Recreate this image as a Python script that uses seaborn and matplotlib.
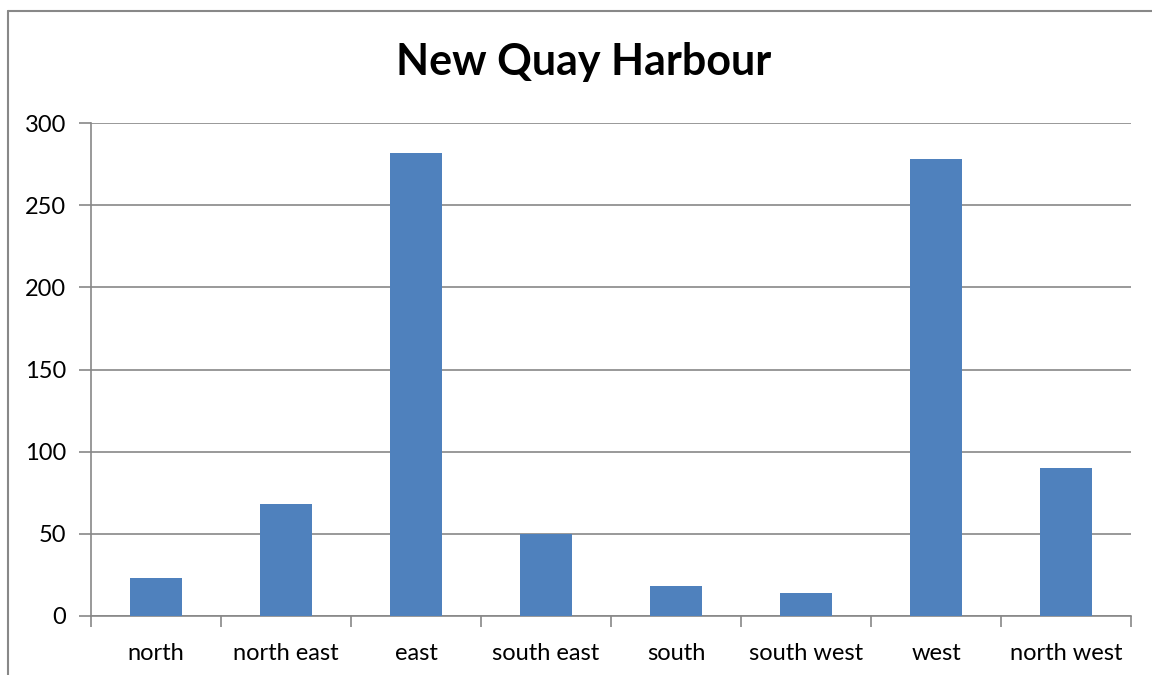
import numpy as np
import pandas as pd
import matplotlib
matplotlib.use('Agg')
import matplotlib.pyplot as plt
import seaborn as sns

# data
directions = ['north', 'north east', 'east', 'south east', 'south', 'south west', 'west', 'north west']
counts = [23, 68, 282, 50, 18, 14, 278, 90]
y_ticks = [0, 50, 100, 150, 200, 250, 300]

df = pd.DataFrame({'direction': directions, 'count': counts})

sns.set_style('white')
plt.rcParams['font.family'] = ['Lato', 'DejaVu Sans']
plt.rcParams['text.color'] = 'black'
plt.rcParams['xtick.color'] = 'black'
plt.rcParams['ytick.color'] = 'black'

fig = plt.figure(figsize=(11.52, 6.75), dpi=100)
ax = fig.add_axes([91/1152, 1-616/675, 1040/1152, 493/675])

sns.barplot(data=df, x='direction', y='count', color='#4F81BD', width=0.4,
            saturation=1, linewidth=0, ax=ax, zorder=3)

grid_col = '#878787'
ax.set_ylim(0, 300)
ax.set_xlim(-0.5, len(directions) - 0.5)
ax.set_yticks(y_ticks)
ax.yaxis.grid(True, color=grid_col, lw=1.2, zorder=0)
ax.set_axisbelow(True)
ax.set_xlabel('')
ax.set_ylabel('')

for s in ['top', 'right']:
    ax.spines[s].set_visible(False)
for s in ['left', 'bottom']:
    ax.spines[s].set_color(grid_col)
    ax.spines[s].set_linewidth(1.2)

# ticks: y outward, x ticks at category boundaries
ax.tick_params(axis='y', which='major', left=True, length=9, width=1.2, color=grid_col,
               labelcolor='black', direction='out', labelsize=17, pad=9)
ax.tick_params(axis='x', which='major', bottom=False, labelcolor='black', labelsize=17, pad=16)
ax.set_xticks(np.arange(-0.5, len(directions)), minor=True)
ax.tick_params(axis='x', which='minor', bottom=True, length=8, width=1.2, color=grid_col,
               direction='out')

# title centred on the chart area, not the plot area
fig.text(584/1152, 1-62/675, 'New Quay Harbour', fontsize=31, fontweight='bold',
         ha='center', va='center', color='black')

# outer chart frame
fig.add_artist(plt.Line2D([8/1152, 8/1152], [0, 1-11/675], color='#888888', lw=1.5))
fig.add_artist(plt.Line2D([8/1152, 1], [1-11/675, 1-11/675], color='#888888', lw=1.5))

fig.savefig('out.png', dpi=100)
